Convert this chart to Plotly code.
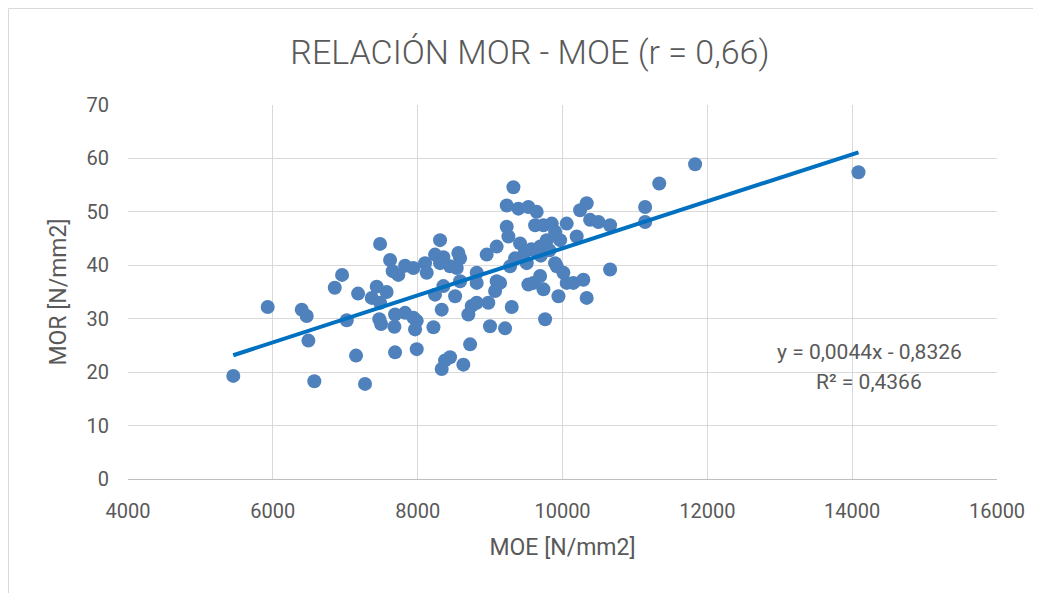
import plotly.graph_objects as go
import numpy as np

# MOE [N/mm2]
moe = [5454, 5929, 6399, 6468, 6491, 6573, 6855, 6956, 7021, 7149, 7177, 7273,
       7434, 7571, 7366, 7481, 7481, 7470, 7495, 7619, 7688, 7679, 7688, 7826,
       7941, 7987, 7964, 7987, 7655, 7733, 7826, 7941, 8102, 8125, 8218, 8309,
       8240, 8309, 8355, 8240, 8332, 8332, 8378, 8447, 8631, 8724, 8517, 8562,
       8586, 8540, 8447, 8586, 8700, 8746, 8815, 8815, 8815, 8953, 8976, 8999,
       9091, 9091, 9138, 9069, 9207, 9230, 9253, 9230, 9299, 9322, 9276, 9345,
       9391, 9529, 9644, 9414, 9506, 9529, 9622, 9737, 9852, 9691, 9783, 9898,
       9967, 9599, 9691, 9737, 9760, 9898, 9921, 9944, 10012, 10058, 10150,
       10288, 10058, 10196, 10243, 10334, 10381, 10496, 10657, 10334, 10657,
       11141, 11141, 11336, 11831, 14087, 8355, 9480, 9570, 9700, 9820]
# MOR [N/mm2]
mor = [19.3, 32.2, 31.7, 30.5, 25.9, 18.3, 35.8, 38.2, 29.7, 23.1, 34.7, 17.8,
       36.0, 35.0, 33.9, 33.0, 44.0, 29.9, 29.0, 41.0, 23.7, 28.5, 30.8, 31.1,
       30.2, 29.6, 28.0, 24.3, 38.9, 38.2, 39.9, 39.5, 40.4, 38.6, 28.4, 44.7,
       42.0, 40.4, 36.1, 34.5, 31.7, 20.6, 22.2, 22.8, 21.4, 25.2, 34.2, 42.3,
       41.3, 39.5, 39.8, 37.0, 30.8, 32.4, 33.0, 38.6, 36.7, 42.0, 33.0, 28.6,
       43.5, 37.0, 36.7, 35.2, 28.2, 47.2, 45.4, 51.2, 32.2, 54.6, 39.8, 41.3,
       50.6, 50.9, 50.0, 44.1, 40.4, 36.4, 47.5, 47.5, 47.8, 43.5, 44.7, 46.3,
       44.7, 36.7, 38.0, 35.5, 29.9, 40.4, 39.8, 34.2, 38.6, 36.7, 36.7, 37.3,
       47.8, 45.4, 50.3, 51.6, 48.5, 48.1, 47.5, 33.9, 39.2, 50.9, 48.1, 55.3,
       58.9, 57.4, 41.5, 42.5, 43.0, 41.8, 42.8]

slope = 0.0044
intercept = -0.8326
eq_text = "y = 0,0044x - 0,8326"
r2_text = "R² = 0,4366"
title_text = "RELACIÓN MOR - MOE (r = 0,66)"
x_title = "MOE [N/mm2]"
y_title = "MOR [N/mm2]"

font_fam = "Roboto, Liberation Sans, sans-serif"
grey = "#595959"

xfit = np.array([min(moe), max(moe)])
yfit = slope * xfit + intercept

fig = go.Figure()
fig.add_trace(go.Scatter(x=moe, y=mor, mode="markers",
                         marker=dict(color="#4F81BD", size=14, line=dict(width=0)),
                         showlegend=False))
fig.add_trace(go.Scatter(x=xfit, y=yfit, mode="lines",
                         line=dict(color="#0070C0", width=4), showlegend=False))

fig.update_layout(
    width=1041, height=593,
    margin=dict(l=120, r=52, t=97, b=122),
    paper_bgcolor="white", plot_bgcolor="white",
    font=dict(family=font_fam, color=grey, size=20),
    title=dict(text=title_text, xref="container", x=0.5014, xanchor="center",
               yref="container", y=0.926, yanchor="middle",
               font=dict(size=34, color=grey, family=font_fam, weight=300)),
    xaxis=dict(range=[4000, 16000], dtick=2000, tick0=4000, tickformat="d",
               showgrid=True, gridcolor="#D9D9D9", gridwidth=1, zeroline=False,
               showline=True, linecolor="#BFBFBF", linewidth=1,
               ticks="", ticklabelstandoff=14, automargin=False,
               tickfont=dict(size=20, color=grey),
               title=dict(text=x_title, font=dict(size=23, color=grey), standoff=16)),
    yaxis=dict(range=[0, 70], dtick=10, showgrid=True, gridcolor="#D9D9D9",
               gridwidth=1, zeroline=False, showline=False, ticks="",
               ticklabelstandoff=18, automargin=False,
               tickfont=dict(size=20, color=grey),
               title=dict(text=y_title, font=dict(size=23, color=grey), standoff=13)),
    shapes=[dict(type="rect", xref="paper", yref="paper",
                 x0=-0.1375, x1=1.2, y0=-0.5, y1=1.258,
                 line=dict(color="#D9D9D9", width=1))],
    annotations=[
        dict(text=eq_text, x=14235, y=23.8, xref="x", yref="y", showarrow=False,
             xanchor="center", yanchor="middle", font=dict(size=21, color=grey)),
        dict(text=r2_text, x=14235, y=18.2, xref="x", yref="y", showarrow=False,
             xanchor="center", yanchor="middle", font=dict(size=21, color=grey)),
    ],
)

fig.write_html("out.html")
